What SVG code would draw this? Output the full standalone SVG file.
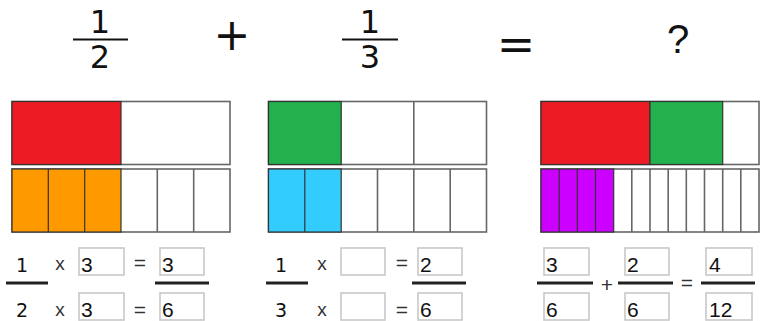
<svg xmlns="http://www.w3.org/2000/svg" width="763" height="321" viewBox="0 0 763 321">
<style>
.big{font-family:"DejaVu Sans","Liberation Sans",sans-serif;font-size:32px;fill:#111;text-anchor:middle}
.op{font-family:"DejaVu Sans","Liberation Sans",sans-serif;fill:#111;text-anchor:middle}
.fd{font-family:"DejaVu Sans","Liberation Sans",sans-serif;font-size:19px;fill:#111;text-anchor:middle}
.num{font-family:"Liberation Sans",Arial,sans-serif;font-size:21px;fill:#111}
.x{font-family:"Liberation Sans",Arial,sans-serif;font-size:19px;fill:#333;text-anchor:middle}
.eq{font-family:"Liberation Sans",Arial,sans-serif;font-size:21px;fill:#333;text-anchor:middle}
.bar{stroke:#222;stroke-width:2.8}
.tbar{stroke:#111;stroke-width:2}
.cell{stroke:#666;stroke-width:1.6}
.fillc{stroke:#333;stroke-width:1.2}
.box{fill:#fff;stroke:#c8c8c8;stroke-width:1.6}
</style>
<rect width="763" height="321" fill="#fff"/>
<g id="top-equation">
<text class="big" x="100" y="33">1</text>
<line class="tbar" x1="73" y1="39.5" x2="128" y2="39.5"/>
<text class="big" x="100" y="68">2</text>
<text class="op" x="232" y="50" font-size="44">+</text>
<text class="op" x="370" y="33" font-size="32">1</text>
<line class="tbar" x1="342" y1="39.5" x2="398" y2="39.5"/>
<text class="big" x="370" y="68">3</text>
<text class="op" x="516" y="60" font-size="46">=</text>
<text class="op" x="678" y="53" font-size="40" style="font-family:'Liberation Sans',Arial,sans-serif">?</text>
</g>
<g id="half-model">
<rect x="12" y="101.5" width="218" height="63" fill="#fff" class="cell"/>
<rect x="12" y="101.5" width="109" height="63" fill="#ED1C24" class="fillc"/>
<rect x="12" y="169" width="218" height="63" fill="#fff" class="cell"/>
<rect x="12" y="169" width="109" height="63" fill="#FF9900" class="fillc"/>
<line class="fillc" x1="48.3" y1="169" x2="48.3" y2="232"/>
<line class="fillc" x1="84.7" y1="169" x2="84.7" y2="232"/>
<line class="cell" x1="157.3" y1="169" x2="157.3" y2="232"/>
<line class="cell" x1="193.7" y1="169" x2="193.7" y2="232"/>
</g>
<g id="third-model">
<rect x="268.5" y="101.5" width="218" height="63" fill="#fff" class="cell"/>
<rect x="268.5" y="101.5" width="72.7" height="63" fill="#22B14C" class="fillc"/>
<line class="cell" x1="413.8" y1="101.5" x2="413.8" y2="164.5"/>
<rect x="268.5" y="169" width="218" height="63" fill="#fff" class="cell"/>
<rect x="268.5" y="169" width="72.7" height="63" fill="#33CCFF" class="fillc"/>
<line class="fillc" x1="304.8" y1="169" x2="304.8" y2="232"/>
<line class="cell" x1="377.5" y1="169" x2="377.5" y2="232"/>
<line class="cell" x1="413.8" y1="169" x2="413.8" y2="232"/>
<line class="cell" x1="450.2" y1="169" x2="450.2" y2="232"/>
</g>
<g id="sum-model">
<rect x="541" y="101.5" width="218" height="63" fill="#fff" class="cell"/>
<rect x="541" y="101.5" width="109" height="63" fill="#ED1C24" class="fillc"/>
<rect x="650" y="101.5" width="72.7" height="63" fill="#22B14C" class="fillc"/>
<rect x="541" y="169" width="218" height="63" fill="#fff" class="cell"/>
<rect x="541" y="169" width="72.7" height="63" fill="#CC00FF" class="fillc"/>
<line class="fillc" x1="559.2" y1="169" x2="559.2" y2="232"/>
<line class="fillc" x1="577.3" y1="169" x2="577.3" y2="232"/>
<line class="fillc" x1="595.5" y1="169" x2="595.5" y2="232"/>
<line class="cell" x1="631.8" y1="169" x2="631.8" y2="232"/>
<line class="cell" x1="650" y1="169" x2="650" y2="232"/>
<line class="cell" x1="668.2" y1="169" x2="668.2" y2="232"/>
<line class="cell" x1="686.3" y1="169" x2="686.3" y2="232"/>
<line class="cell" x1="704.5" y1="169" x2="704.5" y2="232"/>
<line class="cell" x1="722.7" y1="169" x2="722.7" y2="232"/>
<line class="cell" x1="740.8" y1="169" x2="740.8" y2="232"/>
</g>
<g id="half-equation">
<text class="fd" x="22" y="272">1</text>
<line class="bar" x1="6" y1="283" x2="48" y2="283"/>
<text class="fd" x="22" y="317">2</text>
<text class="x" x="60" y="270">x</text>
<text class="x" x="60" y="316">x</text>
<rect class="box" x="79" y="248" width="45" height="27"/>
<text class="num" x="81" y="272">3</text>
<rect class="box" x="79" y="293" width="45" height="27"/>
<text class="num" x="81" y="317">3</text>
<text class="eq" x="140" y="270">=</text>
<text class="eq" x="140" y="317">=</text>
<rect class="box" x="160" y="248" width="44" height="27"/>
<text class="num" x="162" y="272">3</text>
<line class="bar" x1="155" y1="283" x2="209" y2="283"/>
<rect class="box" x="160" y="293" width="44" height="27"/>
<text class="num" x="162" y="317">6</text>
</g>
<g id="third-equation">
<text class="fd" x="281" y="272">1</text>
<line class="bar" x1="266" y1="283" x2="308" y2="283"/>
<text class="fd" x="281" y="317">3</text>
<text class="x" x="322" y="270">x</text>
<text class="x" x="322" y="316">x</text>
<rect class="box" x="341" y="248" width="44" height="27"/>
<rect class="box" x="341" y="293" width="44" height="27"/>
<text class="eq" x="402" y="270">=</text>
<text class="eq" x="402" y="317">=</text>
<rect class="box" x="418" y="248" width="44" height="27"/>
<text class="num" x="420" y="272">2</text>
<line class="bar" x1="412" y1="283" x2="466" y2="283"/>
<rect class="box" x="418" y="293" width="44" height="27"/>
<text class="num" x="420" y="317">6</text>
</g>
<g id="sum-equation">
<rect class="box" x="544" y="248" width="45" height="27"/>
<text class="num" x="546" y="272">3</text>
<line class="bar" x1="537" y1="283" x2="593" y2="283"/>
<rect class="box" x="544" y="293" width="45" height="27"/>
<text class="num" x="546" y="317">6</text>
<text class="eq" x="607" y="292">+</text>
<rect class="box" x="625" y="248" width="44" height="27"/>
<text class="num" x="627" y="272">2</text>
<line class="bar" x1="618" y1="283" x2="673" y2="283"/>
<rect class="box" x="625" y="293" width="44" height="27"/>
<text class="num" x="627" y="317">6</text>
<text class="eq" x="687" y="290">=</text>
<rect class="box" x="706" y="248" width="46" height="27"/>
<text class="num" x="709" y="272">4</text>
<line class="bar" x1="701" y1="283" x2="755" y2="283"/>
<rect class="box" x="706" y="293" width="46" height="27"/>
<text class="num" x="709" y="317">12</text>
</g>
</svg>
